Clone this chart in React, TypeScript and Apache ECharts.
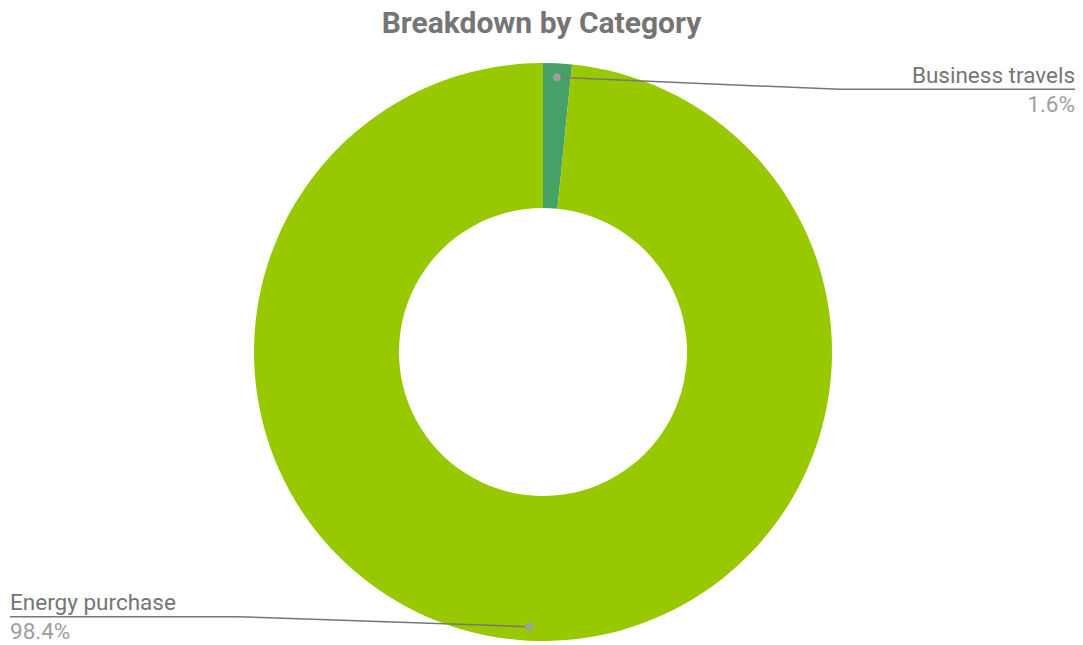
import React, { useEffect, useRef } from "react";
import * as echarts from "echarts";

const titleText = "Breakdown by Category";
const categories = ["Business travels", "Energy purchase"];
const values = [1.6, 98.4];
const colors = ["#45A165", "#97C800"];

const CX = 543;
const CY = 352;
const R_IN = 144;
const R_OUT = 289;
const DOT_R = 275;

function midAngle(i: number) {
  const total = values.reduce((a, b) => a + b, 0);
  let before = 0;
  for (let k = 0; k < i; k++) before += values[k];
  return ((before + values[i] / 2) / total) * Math.PI * 2;
}
function dotPoint(i: number) {
  const a = midAngle(i);
  return [CX + DOT_R * Math.sin(a), CY - DOT_R * Math.cos(a)];
}

export default function App() {
  const ref = useRef<HTMLDivElement>(null);
  useEffect(() => {
    if (!ref.current) return;
    const chart = echarts.init(ref.current, undefined, { renderer: "svg" });
    const W = 1083;
    const pieData = categories.map((c, i) => ({
      name: c,
      value: values[i],
      itemStyle: { color: colors[i] },
    }));
    chart.setOption({
      animation: false,
      backgroundColor: "#ffffff",
      title: {
        text: titleText,
        left: "center",
        top: 2,
        textStyle: {
          fontFamily: "Roboto",
          fontWeight: "bold",
          fontSize: 30,
          color: "#757575",
        },
      },
      series: [
        {
          type: "pie",
          z: 2,
          center: [CX, CY],
          radius: [R_IN, R_OUT],
          startAngle: 90,
          clockwise: true,
          data: pieData,
          label: { show: false },
          labelLine: { show: false },
        },
        {
          type: "pie",
          z: 4,
          silent: true,
          center: [CX, CY],
          radius: [R_IN, R_OUT],
          startAngle: 90,
          clockwise: true,
          data: pieData.map((d) => ({ ...d, itemStyle: { color: "rgba(0,0,0,0)" } })),
          label: {
            show: true,
            position: "outside",
            opacity: 1,
            fontFamily: "Roboto",
            formatter: (p: any) => `{name|${p.name}}\n{pct|${p.percent.toFixed(1)}%}`,
            rich: {
              name: { fontFamily: "Roboto", fontSize: 22.5, color: "#757575", lineHeight: 29 },
              pct: { fontFamily: "Roboto", fontSize: 22.5, color: "#9e9e9e", lineHeight: 29 },
            },
          },
          labelLine: {
            show: true,
            length: 10,
            length2: 10,
            lineStyle: { color: "#777777", width: 1.5, opacity: 1 },
          },
          labelLayout: (params: any) => {
            const i = params.dataIndex;
            const p0 = dotPoint(i);
            const rect = params.labelRect;
            const right = p0[0] >= CX;
            const lineY = p0[1] < CY ? p0[1] + 12 : p0[1] - 10;
            if (right) {
              const textRight = W - 8;
              const textLeft = textRight - rect.width;
              return {
                x: textRight,
                y: lineY,
                align: "right",
                verticalAlign: "middle",
                labelLinePoints: [p0, [textLeft - 72, lineY], [textRight, lineY]],
              };
            } else {
              const textLeft = 10;
              const textRight = textLeft + rect.width;
              return {
                x: textLeft,
                y: lineY,
                align: "left",
                verticalAlign: "middle",
                labelLinePoints: [p0, [textRight + 62, lineY], [textLeft, lineY]],
              };
            }
          },
        },
        {
          type: "custom",
          coordinateSystem: "none",
          z: 6,
          silent: true,
          data: values,
          renderItem: (params: any) => {
            const p = dotPoint(params.dataIndex);
            return {
              type: "circle",
              shape: { cx: p[0], cy: p[1], r: 4 },
              style: { fill: "#9e9e9e" },
            };
          },
        },
      ],
    });
    return () => chart.dispose();
  }, []);
  return (
    <div
      ref={ref}
      style={{ position: "fixed", left: 0, top: 0, width: 1083, height: 645 }}
    />
  );
}
